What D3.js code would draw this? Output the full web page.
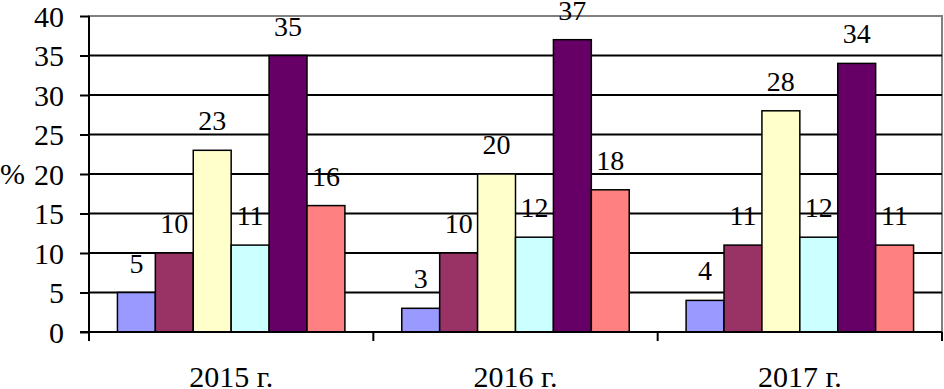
<!DOCTYPE html>
<html>
<head>
<meta charset="utf-8"/>
<title>Chart</title>
<script src="https://cdn.jsdelivr.net/npm/d3@7"></script>
<style>
  body { margin: 0; background: #fff; }
  text { font-family: "Liberation Serif", "Times New Roman", serif; fill: #000; }
</style>
</head>
<body>
<div id="chart"></div>
<script>
// data
var years = ["2015 г.", "2016 г.", "2017 г."];
var series = ["s1", "s2", "s3", "s4", "s5", "s6"];
var colors = ["#9999ff", "#993366", "#ffffcc", "#ccffff", "#660066", "#ff8080"];
var values = [
  [5, 10, 23, 11, 35, 16],
  [3, 10, 20, 12, 37, 18],
  [4, 11, 28, 12, 34, 11]
];
var yTicks = [0, 5, 10, 15, 20, 25, 30, 35, 40];

var W = 944, H = 389;
// plot edges (note: "top" is taken by window.top)
var plotL = 89, plotR = 942, plotT = 16, plotB = 332;

var svg = d3.select("#chart").append("svg")
  .attr("width", W)
  .attr("height", H);

var y = d3.scaleLinear().domain([0, 40]).range([plotB, plotT]);

var x0 = d3.scaleBand().domain(years).range([plotL, plotR]).padding(0);

var x1 = d3.scaleBand().domain(series)
  .range([0, x0.bandwidth()])
  .paddingInner(0)
  .paddingOuter(0.75);

// plot area border (gray, top + right)
svg.append("rect")
  .attr("x", plotL).attr("y", plotT)
  .attr("width", plotR - plotL).attr("height", plotB - plotT)
  .attr("fill", "none")
  .attr("stroke", "#808080")
  .attr("stroke-width", 2);

// gridlines
svg.append("g").selectAll("line")
  .data(yTicks.filter(function(d) { return d > 0 && d < 40; }))
  .enter().append("line")
  .attr("x1", plotL).attr("x2", plotR)
  .attr("y1", function(d) { return y(d); })
  .attr("y2", function(d) { return y(d); })
  .attr("stroke", "#000")
  .attr("stroke-width", 1.8);

// bars
var groups = svg.append("g").selectAll("g")
  .data(values)
  .enter().append("g")
  .attr("transform", function(d, i) { return "translate(" + x0(years[i]) + ",0)"; });

groups.selectAll("rect")
  .data(function(d) { return d; })
  .enter().append("rect")
  .attr("x", function(d, i) { return x1(series[i]); })
  .attr("y", function(d) { return y(d); })
  .attr("width", x1.bandwidth())
  .attr("height", function(d) { return plotB - y(d); })
  .attr("fill", function(d, i) { return colors[i]; })
  .attr("stroke", "#000")
  .attr("stroke-width", 1.5);

groups.selectAll("text")
  .data(function(d) { return d; })
  .enter().append("text")
  .attr("x", function(d, i) { return x1(series[i]) + x1.bandwidth() / 2; })
  .attr("y", function(d) { return y(d) - 20; })
  .attr("text-anchor", "middle")
  .style("font-size", "28px")
  .text(function(d) { return d; });

// y axis
var yAxis = d3.axisLeft(y).tickValues(yTicks).tickSize(9).tickPadding(16);
var gy = svg.append("g")
  .attr("transform", "translate(" + plotL + ",0)")
  .call(yAxis);
gy.attr("font-family", null);
gy.select(".domain").attr("d", "M0," + plotT + "V" + (plotB + 9))
  .attr("stroke", "#000").attr("stroke-width", 2);
gy.selectAll(".tick line").attr("stroke", "#000").attr("stroke-width", 2);
gy.selectAll(".tick text")
  .style("font-size", "30px")
  .attr("dy", "0.34em");

// x axis
var xAxis = d3.axisBottom(x0).tickSize(0).tickPadding(0);
var gx = svg.append("g")
  .attr("transform", "translate(0," + plotB + ")")
  .call(xAxis);
gx.attr("font-family", null);
gx.select(".domain").attr("d", "M" + (plotL - 9) + ",0H" + plotR)
  .attr("stroke", "#000").attr("stroke-width", 2);
gx.selectAll(".tick text")
  .attr("y", 55)
  .attr("dy", 0)
  .style("font-size", "30px");

// category separator ticks
svg.append("g").selectAll("line")
  .data(years.slice(1).concat(["end"]))
  .enter().append("line")
  .attr("x1", function(d) { return d === "end" ? plotR : x0(d); })
  .attr("x2", function(d) { return d === "end" ? plotR : x0(d); })
  .attr("y1", plotB).attr("y2", plotB + 9)
  .attr("stroke", "#000")
  .attr("stroke-width", 2);

// axis title
svg.append("text")
  .attr("x", 0)
  .attr("y", y(20) + 10)
  .style("font-size", "30px")
  .text("%");
</script>
</body>
</html>
